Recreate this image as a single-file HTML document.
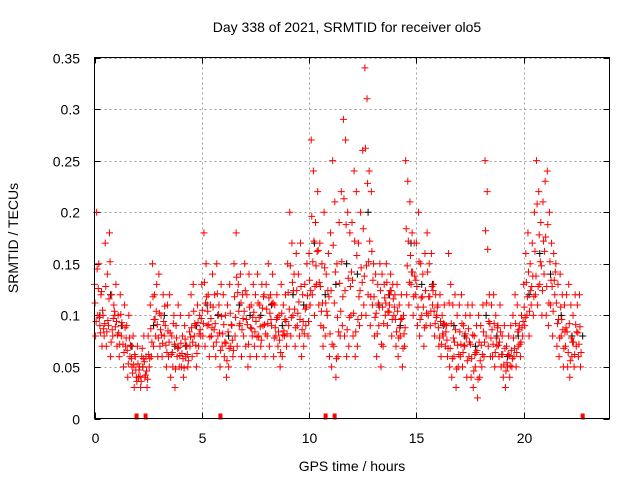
<!DOCTYPE html>
<html><head><meta charset="utf-8"><style>
body{margin:0;background:#fff;}
svg text{font-family:"Liberation Sans",sans-serif;font-size:14px;fill:#000;}
</style></head><body>
<svg id="chart" width="640" height="480" xmlns="http://www.w3.org/2000/svg">
<rect width="640" height="480" fill="#fff"/>
<text x="347" y="32" text-anchor="middle">Day 338 of 2021, SRMTID for receiver olo5</text>
<g id="grid"></g>
<g id="axes"></g>
<g id="points"></g>
<rect x="94.5" y="57.5" width="515" height="361" fill="none" stroke="#000" stroke-width="1"/>
<text x="352" y="471" text-anchor="middle">GPS time / hours</text>
<text x="18" y="238" text-anchor="middle" transform="rotate(-90 18 238)">SRMTID / TECUs</text>
</svg>
<script>
const xTicks=[0,5,10,15,20];
const yTicks=[0,0.05,0.1,0.15,0.2,0.25,0.3,0.35];
const yTickLabels=["0","0.05","0.1","0.15","0.2","0.25","0.3","0.35"];
const redStep=0.1;
const redSeriesA=[.13,.20,.15,.12,.10,.17,.14,.18,.12,.11,.13,.10,.12,.09,.11,.09,.10,.07,.08,.06,.07,.05,.06,.08,.06,.08,.11,.15,.12,.13,.14,.10,.12,.09,.11,.12,.08,.10,.09,.11,.10,.08,.09,.07,.10,.12,.13,.09,.11,.10,.13,.18,.15,.12,.11,.14,.12,.15,.11,.13,.12,.10,.11,.13,.09,.15,.18,.13,.14,.12,.15,.12,.14,.11,.13,.12,.14,.11,.13,.12,.13,.15,.12,.14,.11,.12,.10,.13,.11,.12,.15,.20,.17,.14,.16,.14,.17,.12,.13,.15,.16,.27,.24,.19,.22,.17,.15,.20,.14,.16,.18,.25,.21,.15,.19,.22,.29,.27,.20,.18,.19,.24,.22,.17,.20,.26,.34,.31,.24,.22,.15,.14,.13,.15,.14,.13,.15,.12,.14,.13,.12,.13,.11,.12,.10,.25,.23,.21,.18,.17,.17,.20,.15,.14,.16,.18,.15,.16,.13,.12,.11,.12,.10,.11,.09,.16,.13,.11,.12,.10,.11,.12,.09,.10,.11,.10,.11,.08,.09,.10,.09,.11,.25,.22,.12,.11,.12,.10,.09,.11,.08,.09,.07,.08,.09,.10,.12,.11,.09,.10,.13,.16,.18,.15,.17,.20,.25,.22,.19,.21,.23,.24,.20,.17,.16,.15,.13,.14,.12,.11,.12,.13,.11,.10,.12,.11,.12];
const redSeriesB=[.08,.10,.09,.07,.08,.07,.09,.06,.08,.10,.07,.06,.08,.05,.07,.04,.06,.05,.03,.04,.04,.03,.05,.04,.03,.05,.06,.07,.08,.06,.07,.06,.08,.05,.06,.04,.05,.03,.06,.05,.05,.04,.06,.05,.07,.06,.08,.05,.07,.08,.08,.07,.09,.06,.08,.07,.06,.08,.05,.07,.06,.04,.05,.07,.06,.08,.07,.09,.06,.08,.07,.05,.06,.08,.07,.06,.08,.07,.09,.06,.08,.07,.09,.06,.08,.07,.05,.06,.08,.07,.09,.08,.10,.07,.09,.08,.06,.07,.09,.08,.11,.12,.10,.13,.11,.09,.07,.08,.10,.06,.05,.07,.04,.06,.08,.09,.08,.06,.07,.10,.08,.06,.07,.09,.10,.11,.10,.12,.09,.11,.08,.06,.09,.05,.07,.10,.09,.11,.08,.10,.07,.06,.08,.05,.07,.12,.11,.13,.10,.12,.09,.08,.10,.07,.09,.10,.09,.11,.08,.10,.07,.06,.08,.07,.06,.05,.04,.06,.03,.05,.06,.05,.07,.04,.06,.04,.03,.05,.02,.04,.05,.06,.08,.07,.06,.06,.05,.07,.06,.05,.04,.03,.05,.04,.05,.06,.05,.07,.06,.08,.09,.10,.08,.11,.10,.12,.11,.13,.10,.14,.10,.09,.11,.08,.12,.07,.06,.08,.05,.07,.05,.04,.06,.05,.07,.06,.05];
const redSeriesC=[.112,.145,.098,.123,.087,.128,.095,.152,.086,.104,.094,.083,.101,.072,.088,.066,.078,.058,.052,.047,.053,.041,.068,.055,.046,.062,.087,.118,.096,.091,.102,.081,.094,.071,.085,.083,.064,.072,.078,.069,.073,.058,.077,.062,.084,.088,.104,.071,.093,.086,.105,.132,.118,.091,.097,.108,.092,.121,.083,.099,.091,.073,.084,.102,.076,.118,.137,.104,.112,.097,.124,.091,.108,.087,.103,.094,.112,.089,.107,.091,.106,.117,.096,.112,.088,.098,.076,.102,.085,.094,.122,.148,.132,.106,.124,.113,.128,.094,.106,.119,.134,.196,.172,.148,.163,.128,.112,.146,.104,.118,.124,.168,.142,.098,.131,.152,.213,.188,.136,.128,.134,.172,.158,.118,.146,.184,.262,.228,.172,.162,.118,.102,.112,.124,.108,.117,.132,.103,.124,.116,.096,.104,.088,.097,.082,.184,.172,.158,.142,.138,.128,.152,.117,.108,.124,.142,.118,.128,.104,.098,.088,.094,.082,.091,.076,.112,.092,.078,.086,.071,.084,.092,.071,.078,.087,.072,.081,.062,.066,.074,.071,.084,.182,.164,.092,.086,.092,.078,.071,.084,.062,.068,.054,.061,.066,.078,.092,.084,.072,.088,.108,.132,.142,.124,.138,.162,.208,.178,.148,.172,.176,.188,.152,.128,.134,.112,.096,.108,.086,.084,.084,.092,.078,.074,.091,.083,.089];
const redSeriesD=[.094,.126,.083,.105,.092,.084,.116,.074,.097,.089,.081,.072,.093,.064,.078,.053,.071,.044,.062,.036,.047,.036,.058,.042,.038,.058,.074,.096,.104,.078,.086,.073,.109,.064,.074,.062,.092,.048,.068,.061,.063,.049,.071,.056,.079,.074,.092,.063,.082,.097,.092,.112,.104,.079,.088,.086,.074,.101,.066,.082,.074,.056,.068,.091,.066,.098,.122,.092,.086,.104,.096,.072,.088,.098,.084,.079,.098,.076,.118,.082,.092,.102,.111,.078,.096,.084,.064,.081,.096,.082,.106,.098,.124,.088,.102,.096,.086,.082,.108,.094,.124,.152,.128,.162,.132,.104,.088,.112,.124,.082,.072,.112,.058,.084,.104,.118,.124,.086,.098,.142,.102,.084,.096,.124,.132,.138,.148,.152,.118,.134,.098,.082,.108,.072,.092,.112,.104,.124,.096,.108,.084,.078,.096,.068,.088,.148,.132,.142,.118,.134,.108,.096,.118,.088,.102,.118,.104,.124,.092,.108,.078,.072,.092,.084,.068,.068,.058,.074,.048,.062,.072,.064,.082,.056,.074,.058,.046,.064,.038,.056,.062,.074,.112,.094,.078,.072,.064,.088,.074,.062,.052,.046,.062,.051,.058,.068,.064,.086,.074,.094,.098,.118,.104,.128,.118,.138,.128,.152,.124,.162,.128,.112,.134,.104,.142,.092,.078,.096,.068,.088,.064,.056,.074,.062,.084,.072,.064];
const blackStep=0.5;
const blackSeries=[.10,.12,.09,.07,.05,.09,.10,.07,.07,.09,.11,.10,.08,.11,.10,.10,.11,.09,.12,.11,.17,.12,.13,.15,.14,.20,.11,.12,.09,.17,.13,.13,.09,.09,.08,.07,.10,.08,.06,.08,.12,.16,.14,.10,.08,.08];
const zeroMarkHours=[1.96,2.38,5.87,10.77,11.19,22.75];

const X0=94.5,X1=609.5,Y0=418.5,Y1=57.5;
const xScale=h=>X0+h/24*(X1-X0);
const yScale=v=>Y0-v/0.35*(Y0-Y1);
const NS="http://www.w3.org/2000/svg";
function mk(tag,attrs,parent){const e=document.createElementNS(NS,tag);for(const k in attrs)e.setAttribute(k,attrs[k]);parent.appendChild(e);return e;}
const grid=document.getElementById('grid'),axes=document.getElementById('axes'),pts=document.getElementById('points');
xTicks.forEach(t=>{const x=Math.round(xScale(t))+0.5;
 if(t>0){const g=mk('line',{x1:x,x2:x,y1:Y1,y2:Y0,stroke:'#a0a0a0','stroke-dasharray':'2,3'},grid);
 
 }
 const tk=mk('line',{x1:x,x2:x,y1:Y0,y2:Y0-6,stroke:'#000'},axes);
 
 
 const tk2=mk('line',{x1:x,x2:x,y1:Y1,y2:Y1+6,stroke:'#000'},axes);
 
 
 const tx=mk('text',{x:x,y:443,'text-anchor':'middle'},axes);tx.textContent=String(t);
 
 
});
yTicks.forEach((t,i)=>{const y=Math.round(yScale(t))+0.5;
 if(t>0){const g=mk('line',{x1:X0,x2:X1,y1:y,y2:y,stroke:'#a0a0a0','stroke-dasharray':'2,3'},grid);
 
 }
 const tk=mk('line',{x1:X0,x2:X0+6,y1:y,y2:y,stroke:'#000'},axes);
 
 
 const tk2=mk('line',{x1:X1,x2:X1-6,y1:y,y2:y,stroke:'#000'},axes);
 
 
 const tx=mk('text',{x:80,y:y+5,'text-anchor':'end'},axes);tx.textContent=yTickLabels[i];
 
 
});
function plus(h,v,color,name){const x=xScale(h),y=yScale(v);
 const p=mk('path',{d:`M${x-3.5},${y}H${x+3.5}M${x},${y-3.5}V${y+3.5}`,stroke:color,'stroke-width':1,fill:'none'},pts);
 
 
}
blackSeries.forEach((v,i)=>plus(i*blackStep+0.25,v,'#000','black-point'));
redSeriesA.forEach((v,i)=>plus(i*redStep,v,'#f00','red-point'));
redSeriesB.forEach((v,i)=>plus(i*redStep+0.05,v,'#f00','red-point'));
redSeriesC.forEach((v,i)=>plus(i*redStep+0.025,v,'#f00','red-point'));
redSeriesD.forEach((v,i)=>plus(i*redStep+0.075,v,'#f00','red-point'));
zeroMarkHours.forEach(h=>{const x=xScale(h);
 const r=mk('rect',{x:x-2,y:Y0-5,width:4,height:6,fill:'#f00'},pts);
 
 
});
</script>
</body></html>
